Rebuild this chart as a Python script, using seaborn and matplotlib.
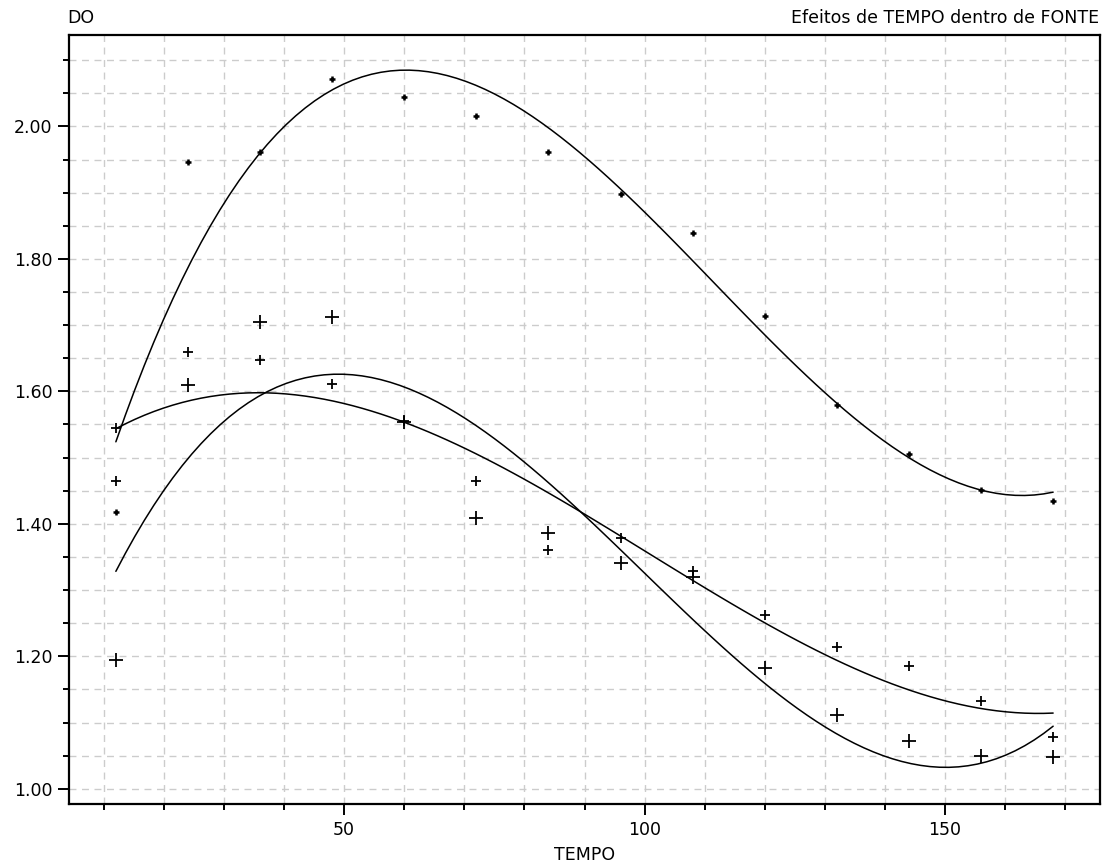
import numpy as np
import pandas as pd
import matplotlib
matplotlib.use("Agg")
import matplotlib.pyplot as plt
import seaborn as sns
from matplotlib.ticker import MultipleLocator, FixedLocator

# ---- data ----
tempo = [12, 24, 36, 48, 60, 72, 84, 96, 108, 120, 132, 144, 156, 168]
do_f1 = [1.418, 1.946, 1.961, 2.072, 2.044, 2.015, 1.962, 1.898, 1.839, 1.714, 1.579, 1.505, 1.451, 1.435]
do_f2 = [1.465, 1.659, 1.647, 1.611, 1.555, 1.465, 1.361, 1.379, 1.329, 1.263, 1.214, 1.185, 1.132, 1.078]
do_f3 = [1.194, 1.609, 1.704, 1.713, 1.553, 1.409, 1.386, 1.341, 1.320, 1.183, 1.111, 1.072, 1.050, 1.048]
extra_tempo = [12]
extra_do = [1.544]

x_major = [50, 100, 150]
y_major = [1.00, 1.20, 1.40, 1.60, 1.80, 2.00]

sns.set_style("white")
plt.rcParams['font.family'] = ['DejaVu Sans']
plt.rcParams['text.color'] = 'black'
plt.rcParams['xtick.color'] = 'black'
plt.rcParams['ytick.color'] = 'black'
plt.rcParams['axes.labelcolor'] = 'black'

FS = 12.5

fig = plt.figure(figsize=(11.07, 8.67), dpi=100)
ax = fig.add_axes([69/1107, 1 - 804/867, (1100-69)/1107, (804-35)/867])

for yy, xx in ((do_f1, tempo), (do_f2 + extra_do, tempo + extra_tempo), (do_f3, tempo)):
    d = pd.DataFrame({"TEMPO": xx, "DO": yy})
    sns.regplot(data=d, x="TEMPO", y="DO", order=3, ci=None, scatter=False,
                ax=ax, line_kws=dict(color="black", lw=1.1))

d1 = pd.DataFrame({"TEMPO": tempo, "DO": do_f1})
d2 = pd.DataFrame({"TEMPO": tempo + extra_tempo, "DO": do_f2 + extra_do})
d3 = pd.DataFrame({"TEMPO": tempo, "DO": do_f3})
sns.scatterplot(data=d1, x="TEMPO", y="DO", marker="+", s=14, color="black", linewidth=1.8, ax=ax)
sns.scatterplot(data=d2, x="TEMPO", y="DO", marker="+", s=45, color="black", linewidth=1.3, ax=ax)
sns.scatterplot(data=d3, x="TEMPO", y="DO", marker="+", s=95, color="black", linewidth=1.3, ax=ax)

ax.set_xlim(4.2, 175.8)
ax.set_ylim(0.977, 2.138)

ax.xaxis.set_major_locator(FixedLocator(x_major))
ax.xaxis.set_minor_locator(MultipleLocator(10))
ax.yaxis.set_major_locator(FixedLocator(y_major))
ax.yaxis.set_minor_locator(MultipleLocator(0.05))
ax.set_yticklabels([f"{v:.2f}" for v in y_major])
ax.set_xticklabels([str(v) for v in x_major])
ax.tick_params(which="major", direction="out", length=8, width=1.4, color="black",
               labelsize=FS, labelcolor="black", pad=4, left=True, bottom=True)
ax.tick_params(which="minor", direction="out", length=4.5, width=1.4, color="black",
               left=True, bottom=True)
ax.grid(which="both", color="#cccccc", linestyle=(0, (5, 4)), linewidth=1.0)
ax.set_axisbelow(True)
for sp in ax.spines.values():
    sp.set_color("black")
    sp.set_linewidth(1.6)

ax.set_xlabel("TEMPO", fontsize=FS, labelpad=5, color="black")
ax.set_ylabel("")
fig.text(67/1107, 1 - 18/867, "DO", fontsize=FS, ha="left", va="center", color="black")
fig.text(1099/1107, 1 - 18/867, "Efeitos de TEMPO dentro de FONTE", fontsize=FS,
         ha="right", va="center", color="black")

fig.savefig("out.png", dpi=100)
